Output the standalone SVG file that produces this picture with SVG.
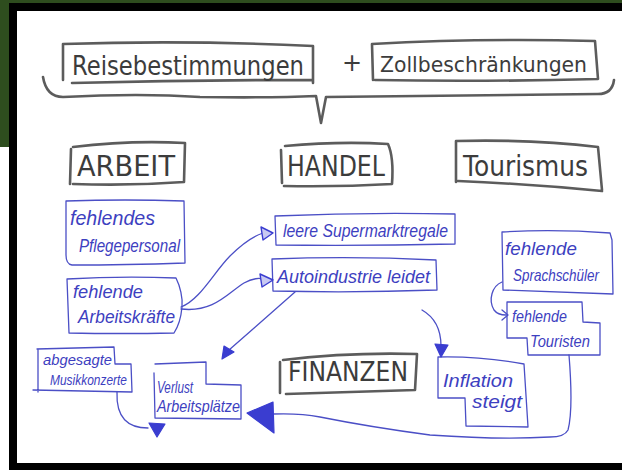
<svg xmlns="http://www.w3.org/2000/svg" width="622" height="470" viewBox="0 0 622 470">
<defs>
<style>
.hd{fill:none;stroke:#4a4a4a;stroke-width:2.6;stroke-linecap:round;stroke-linejoin:round;opacity:0.9}
.ht{font-family:"DejaVu Sans","Liberation Sans",sans-serif;fill:#3c3c3c}
.bb{fill:none;stroke:#4b4fc6;stroke-width:1.3;stroke-linecap:round;stroke-linejoin:round}
.bt{font-family:"Liberation Sans","DejaVu Sans",sans-serif;fill:#3d40c0;font-style:italic}
.cn{fill:none;stroke:#4b4fc6;stroke-width:1.3;stroke-linecap:round;stroke-linejoin:round}
.ah{fill:#3a3dd0;stroke:#3a3dd0;stroke-width:1.2;stroke-linejoin:round}
.ao{fill:#c8c9f2;stroke:#3a3dd0;stroke-width:1.4;stroke-linejoin:round}
</style>
</defs>
<rect x="0" y="0" width="622" height="470" fill="#ffffff"/>
<rect x="0" y="0" width="622" height="3" fill="#2e4d1e"/>
<rect x="0" y="0" width="9" height="147" fill="#2e4d1e"/>
<rect x="9" y="3" width="613" height="8" fill="#000"/>
<rect x="9" y="3" width="8" height="467" fill="#000"/>
<rect x="9" y="463" width="613" height="7" fill="#000"/>

<g id="reisebestimmungen">
<path class="hd" d="M63,80 L63,44 Q188,40 313,46 L313,83 M72,83 Q190,80 312,80"/>
<text class="ht" x="72" y="75" font-size="26" textLength="232" lengthAdjust="spacingAndGlyphs">Reisebestimmungen</text>
</g>
<g id="plus">
<text class="ht" x="352" y="71" font-size="24" text-anchor="middle">+</text>
</g>
<g id="zollbeschraenkungen">
<path class="hd" d="M373,80 L372,44 Q480,38 595,41 L598,79 Q480,82 375,80"/>
<text class="ht" x="380" y="72" font-size="22" textLength="207" lengthAdjust="spacingAndGlyphs">Zollbeschränkungen</text>
</g>
<g id="klammer">
<path class="hd" d="M43,77 C45,89 51,97 63,97 Q140,93 200,97 Q270,98 316,96 L321,123 L326,97 Q460,95 598,94 C609,94 613,88 614,80" stroke-width="1.8"/>
</g>

<g id="arbeit">
<path class="hd" d="M70,184 L71,149 M73,147 Q130,140 185,143 L184,182 Q130,186 73,184"/>
<text class="ht" x="77" y="176" font-size="28" textLength="98" lengthAdjust="spacingAndGlyphs">ARBEIT</text>
</g>
<g id="handel">
<path class="hd" d="M282,183 L281,150 M285,146 Q340,141 388,144 C393,155 393,170 392,184 Q340,187 284,186"/>
<text class="ht" x="287" y="176" font-size="28" textLength="98" lengthAdjust="spacingAndGlyphs">HANDEL</text>
</g>
<g id="tourismus">
<path class="hd" d="M456,182 L456,141 Q530,139 598,147 L602,190 M458,181 Q530,184 602,191"/>
<text class="ht" x="463" y="176" font-size="28" textLength="125" lengthAdjust="spacingAndGlyphs">Tourismus</text>
</g>
<g id="finanzen">
<path class="hd" d="M280,393 L280,362 M283,360 Q350,352 417,354 L415,390 Q350,392 286,394"/>
<text class="ht" x="288" y="381" font-size="27" textLength="120" lengthAdjust="spacingAndGlyphs">FINANZEN</text>
</g>

<g id="pflegepersonal">
<path class="bb" d="M66,201 Q125,199 184,201 L185,263 Q125,265 72,265 Q66,264 66,255 Z"/>
<text class="bt" x="70" y="225" font-size="20" textLength="85" lengthAdjust="spacingAndGlyphs">fehlendes</text>
<text class="bt" x="79" y="252" font-size="19" textLength="101" lengthAdjust="spacingAndGlyphs">Pflegepersonal</text>
</g>
<g id="arbeitskraefte">
<path class="bb" d="M67,279 Q120,276 176,278 C180,286 183,298 182,307 C181,318 178,327 174,333 Q120,334 69,333 L67,279"/>
<text class="bt" x="73" y="298" font-size="19" textLength="70" lengthAdjust="spacingAndGlyphs">fehlende</text>
<text class="bt" x="78" y="323" font-size="19" textLength="97" lengthAdjust="spacingAndGlyphs">Arbeitskräfte</text>
</g>
<g id="supermarktregale">
<path class="bb" d="M275,216 Q365,212 455,214 L455,244 Q365,246 276,245 Z"/>
<text class="bt" x="283" y="237" font-size="19" textLength="165" lengthAdjust="spacingAndGlyphs">leere Supermarktregale</text>
</g>
<g id="autoindustrie">
<path class="bb" d="M272,259 Q355,256 436,260 L437,290 Q355,293 273,291 Z"/>
<text class="bt" x="277" y="283" font-size="19" textLength="153" lengthAdjust="spacingAndGlyphs">Autoindustrie leidet</text>
</g>
<g id="sprachschueler">
<path class="bb" d="M502,232 Q555,229 610,233 L612,240 L613,294 Q560,292 503,290 Z"/>
<text class="bt" x="505" y="255" font-size="19" textLength="72" lengthAdjust="spacingAndGlyphs">fehlende</text>
<text class="bt" x="513" y="281" font-size="17" textLength="86" lengthAdjust="spacingAndGlyphs">Sprachschüler</text>
</g>
<g id="touristen">
<path class="bb" d="M507,302 L582,302 L583,322 L600,323 L600,355 L528,355 L527,338 L507,338 Z"/>
<text class="bt" x="512" y="322" font-size="17" textLength="55" lengthAdjust="spacingAndGlyphs">fehlende</text>
<text class="bt" x="530" y="347" font-size="17" textLength="60" lengthAdjust="spacingAndGlyphs">Touristen</text>
</g>
<g id="musikkonzerte">
<path class="bb" d="M37,349 L114,347 L115,364 L131,364 L132,392 L33,390 M38,349 L38,392"/>
<text class="bt" x="43" y="365" font-size="14" textLength="69" lengthAdjust="spacingAndGlyphs">abgesagte</text>
<text class="bt" x="50" y="385" font-size="14" textLength="77" lengthAdjust="spacingAndGlyphs">Musikkonzerte</text>
</g>
<g id="arbeitsplaetze">
<path class="bb" d="M155,364 L206,362 L206,384 L241,385 L241,419 L155,418 L154,373"/>
<text class="bt" x="157" y="393" font-size="17" textLength="36" lengthAdjust="spacingAndGlyphs">Verlust</text>
<text class="bt" x="157" y="412" font-size="17" textLength="83" lengthAdjust="spacingAndGlyphs">Arbeitsplätze</text>
</g>
<g id="inflation">
<path class="bb" d="M438,357 Q480,356 524,364 L528,427 L466,426 L465,398 L438,398 Z"/>
<text class="bt" x="443" y="387" font-size="19" textLength="70" lengthAdjust="spacingAndGlyphs">Inflation</text>
<text class="bt" x="472" y="408" font-size="18" textLength="50" lengthAdjust="spacingAndGlyphs">steigt</text>
</g>

<g id="connectors">
<path class="cn" d="M181,307 C200,300 214,272 230,256 C243,243 254,236 263,233"/>
<polygon class="ao" points="273,233 261,227 263,240"/>
<path class="cn" d="M181,309 C214,313 229,292 244,283 C253,278 260,278 262,279"/>
<polygon class="ao" points="273,280 260,274 262,287"/>
<path class="cn" d="M295,292 L229,350"/>
<polygon class="ah" points="222,359 224,346 234,352"/>
<path class="cn" d="M422,310 C436,318 441,332 441,346"/>
<polygon class="ah" points="441,357 435,344 448,345"/>
<path class="cn" d="M502,282 C492,286 488,300 494,310 C497,314 502,315 506,315"/>
<path class="cn" d="M502,310 L508,315 L502,320"/>
<path class="cn" d="M117,392 C116,418 128,428 148,428"/>
<polygon class="ah" points="157,437 149,423 165,424"/>
<path class="cn" d="M569,355 C571,380 572,415 568,430 C565,436 558,437 550,437 Q500,440 430,435 Q370,427 320,417 Q300,413 273,414"/>
<polygon class="ah" points="247,413 273,402 274,433"/>
</g>
</svg>
